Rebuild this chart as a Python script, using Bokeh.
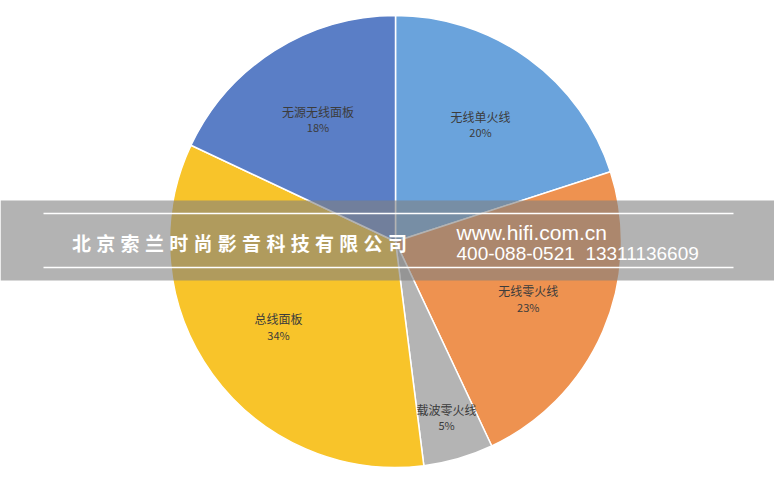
import numpy as np
from bokeh.plotting import figure
from bokeh.models import Range1d, ColumnDataSource
from bokeh.core.properties import value
from bokeh.embed import file_html
from bokeh.resources import INLINE

# ---- data ----
categories = ["无线单火线", "无线零火线", "载波零火线", "总线面板", "无源无线面板"]
shares = [20, 23, 5, 34, 18]
colors = ["#6aa3dc", "#ee9250", "#b4b4b4", "#f8c42a", "#5a7ec6"]
company = "北京索兰时尚影音科技有限公司"
site = "www.hifi.com.cn"
phones = "400-088-0521\u00a0\u00a013311136609"

W, H = 774, 480
cx, cy, R = 395, 480 - 241, 226

p = figure(width=W, height=H, output_backend="svg", toolbar_location=None,
           x_range=Range1d(0, W), y_range=Range1d(0, H), min_border=0)
p.margin = (0, 0, 0, 0)
p.axis.visible = False
p.grid.visible = False
p.outline_line_color = None
p.background_fill_color = "white"
p.border_fill_color = "white"

vals = np.array(shares, dtype=float)
frac = vals / vals.sum()
c1 = np.cumsum(frac)
c0 = c1 - frac
start = np.pi / 2 - 2 * np.pi * c1
end = np.pi / 2 - 2 * np.pi * c0
mid = (start + end) / 2
lr = np.where(frac < 0.1, 0.81, 0.64) * R
lx = cx + lr * np.cos(mid)
ly = cy + lr * np.sin(mid)

src = ColumnDataSource(dict(start=start, end=end, color=colors,
                            name=categories,
                            pct=[f"{int(v)}%" for v in shares],
                            lx=lx, ly=ly))
p.wedge(x=cx, y=cy, radius=R, start_angle="start", end_angle="end",
        fill_color="color", line_color="white", line_width=1.5, source=src)

font = value("Noto Sans CJK SC")
p.text(x="lx", y="ly", text="name", source=src, text_font=font,
       text_font_size="12px", text_color="#3c3c3c", text_align="center",
       text_baseline="middle", y_offset=-8)
p.text(x="lx", y="ly", text="pct", source=src, text_font=font,
       text_font_size="11px", text_color="#3c3c3c", text_align="center",
       text_baseline="middle", y_offset=8)

# ---- watermark band ----
p.quad(left=0, right=W, bottom=480 - 280, top=480 - 200,
       fill_color="#808080", fill_alpha=0.6, line_color=None)
p.segment(x0=[43, 43], y0=[480 - 213, 480 - 267], x1=[733, 733],
          y1=[480 - 213, 480 - 267], line_color="white", line_width=1.5)

chars = list(company)
p.text(x=[81 + i * 24.3 for i in range(len(chars))], y=[480 - 242] * len(chars),
       text=chars, text_font=font, text_font_size="19px",
       text_font_style="bold", text_color="white", text_align="center",
       text_baseline="middle")
p.text(x=[456], y=[480 - 232], text=[site], text_font=value("Liberation Sans"),
       text_font_size="21px", text_color="white", text_align="left",
       text_baseline="middle")
p.text(x=[456], y=[480 - 253], text=[phones], text_font=value("Liberation Sans"),
       text_font_size="19px", text_color="white", text_align="left",
       text_baseline="middle")

open("out.html", "w").write(file_html(p, INLINE))
